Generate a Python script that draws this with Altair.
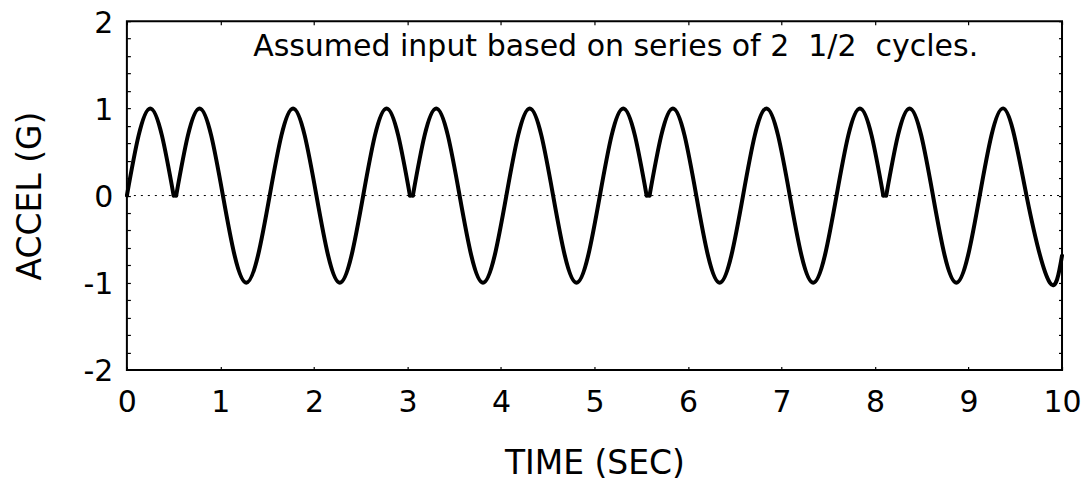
import altair as alt
import pandas as pd

# ---- data ----
# knot times (s) and acceleration (G) of the assumed input; each run of
# 2 1/2 cycles is its own segment, short zero dwells join the runs
time_s = [
    0.0, 0.25, 0.5,
    0.5, 0.527,
    0.527, 0.777, 1.027, 1.277, 1.527, 1.777, 2.027, 2.277, 2.527, 2.777, 3.027,
    3.027, 3.058,
    3.058, 3.308, 3.558, 3.808, 4.058, 4.308, 4.558, 4.808, 5.058, 5.308, 5.558,
    5.558, 5.589,
    5.589, 5.839, 6.089, 6.339, 6.589, 6.839, 7.089, 7.339, 7.589, 7.839, 8.089,
    8.089, 8.12,
    8.12, 8.37, 8.62, 8.87, 9.12, 9.37, 9.62, 9.87, 10.0,
]
accel_g = [
    0, 1, 0,
    0, 0,
    0, 1, 0, -1, 0, 1, 0, -1, 0, 1, 0,
    0, 0,
    0, 1, 0, -1, 0, 1, 0, -1, 0, 1, 0,
    0, 0,
    0, 1, 0, -1, 0, 1, 0, -1, 0, 1, 0,
    0, 0,
    0, 1, 0, -1, 0, 1, 0, -1, -0.69,
]
segment_id = (
    [0] * 3 + [1] * 2 + [2] * 11 + [3] * 2 + [4] * 11
    + [5] * 2 + [6] * 11 + [7] * 2 + [8] * 9
)

x_tick_values = [0, 1, 2, 3, 4, 5, 6, 7, 8, 9, 10]
y_tick_values = [-2, -1.8, -1.6, -1.4, -1.2, -1, -0.8, -0.6, -0.4, -0.2, 0,
                 0.2, 0.4, 0.6, 0.8, 1, 1.2, 1.4, 1.6, 1.8, 2]

x_domain = [0, 10]
y_domain = [-2, 2]

# non-breaking spaces keep the double spaces of the original note
note_text = ["Assumed input based on series of 2\u00a0 1/2\u00a0 cycles."]
note_time = [1.35]
note_accel = [1.6]

reference_level = [0]

# ---- chart ----
FONT = "DejaVu Sans"
W, H = 936, 349

curve_df = pd.DataFrame({"time": time_s, "accel": accel_g, "segment": segment_id})
zero_df = pd.DataFrame({"t0": [x_domain[0]], "t1": [x_domain[1]], "level": reference_level})
note_df = pd.DataFrame({"text": note_text, "time": note_time, "accel": note_accel})

x_scale = alt.Scale(domain=x_domain, nice=False, zero=False)
y_scale = alt.Scale(domain=y_domain, nice=False, zero=False)

tick_style = dict(offset=-3.5, tickSize=3.5, tickWidth=1.2, tickColor="black",
                  domain=False, grid=False)

zero_line = alt.Chart(zero_df).mark_rule(
    color="black", strokeWidth=1, strokeDash=[2, 5]
).encode(
    x=alt.X("t0:Q", scale=x_scale,
            axis=alt.Axis(orient="top", values=x_tick_values, labels=False,
                          title="", **tick_style)),
    x2="t1",
    y=alt.Y("level:Q", scale=y_scale,
            axis=alt.Axis(orient="right", values=y_tick_values, labels=False,
                          title="", **tick_style)),
)

curve = alt.Chart(curve_df).mark_line(
    color="black", strokeWidth=4, interpolate="natural",
    strokeCap="round", strokeJoin="round"
).encode(
    x=alt.X("time:Q", scale=x_scale,
            axis=alt.Axis(orient="bottom", values=x_tick_values,
                          labelFont=FONT, labelFontSize=30, labelColor="black",
                          labelPadding=42, labelBaseline="alphabetic",
                          labelFlush=False, labelOverlap=False,
                          title="TIME (SEC)", titleFont=FONT, titleFontSize=33,
                          titleFontWeight="normal", titleColor="black",
                          titleX=W / 2, titleY=107, titleAlign="center",
                          titleBaseline="alphabetic", **tick_style)),
    y=alt.Y("accel:Q", scale=y_scale,
            axis=alt.Axis(orient="left", values=y_tick_values,
                          labelExpr="datum.value % 1 === 0 ? '' + datum.value : ''",
                          labelFont=FONT, labelFontSize=30, labelColor="black",
                          labelPadding=14, labelBaseline="middle", labelAlign="right",
                          labelOffset=2, labelOverlap=False,
                          title="ACCEL (G)", titleFont=FONT, titleFontSize=33,
                          titleFontWeight="normal", titleColor="black",
                          titleX=-100, titleY=H / 2, titleAlign="center",
                          titleBaseline="middle", **tick_style)),
    detail="segment:N",
)

note = alt.Chart(note_df).mark_text(
    font=FONT, fontSize=30, color="black", align="left", baseline="alphabetic"
).encode(
    x=alt.X("time:Q", scale=x_scale, axis=None),
    y=alt.Y("accel:Q", scale=y_scale, axis=None),
    text="text:N",
)

chart = alt.layer(zero_line, curve, note).resolve_axis(
    x="independent", y="independent"
).properties(
    width=W, height=H,
    padding={"left": 119, "top": 13, "right": 20, "bottom": 113},
    autosize=alt.AutoSizeParams(type="none"),
    background="white",
).configure_view(stroke="black", strokeWidth=2)

chart.save("out.html", embed_options={"renderer": "svg", "actions": False})
